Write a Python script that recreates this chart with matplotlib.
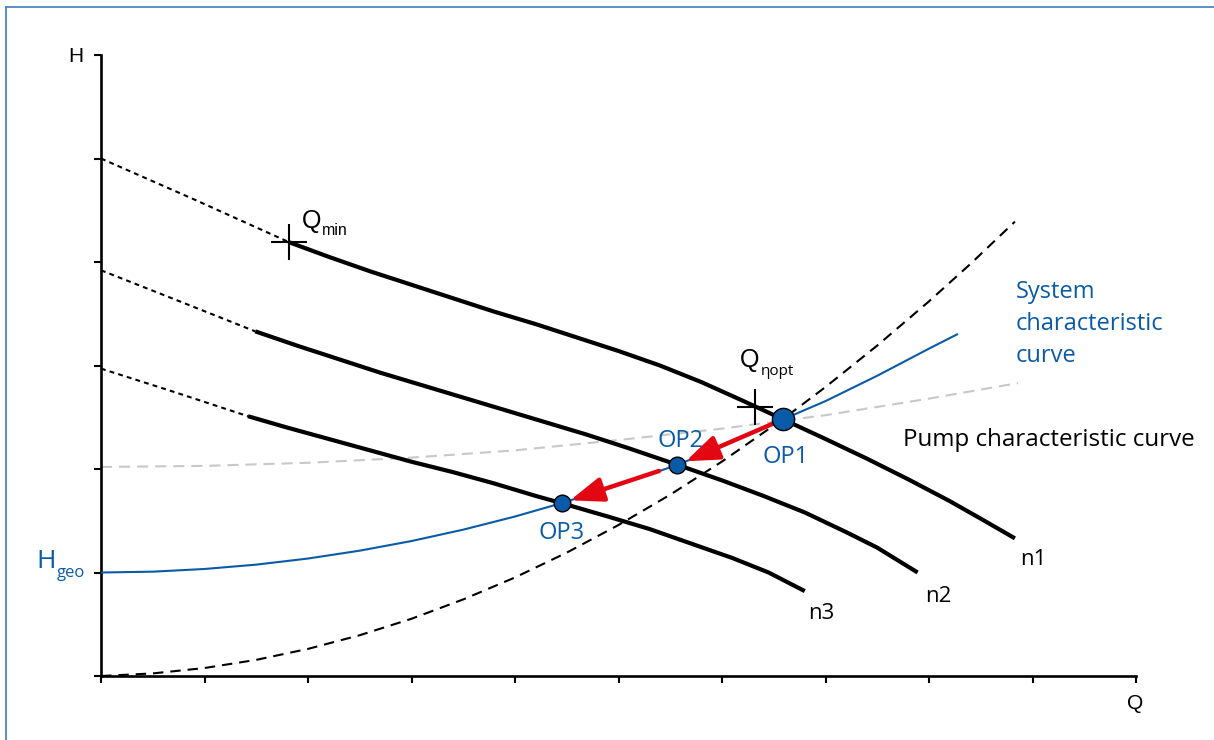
import matplotlib
matplotlib.use("Agg")
import matplotlib.pyplot as plt
from matplotlib.patches import FancyArrowPatch
from matplotlib.lines import Line2D

plt.rcParams["lines.scale_dashes"] = False

# Pump characteristic curves (flow Q, head H) for the three speeds.
# Points left of each q_start lie in the part of the curve not to be used.
n1_q = [0.00, 0.91, 1.82, 2.20, 2.60, 3.00, 3.40, 3.80, 4.20, 4.60, 5.00, 5.40,
        5.80, 6.20, 6.59, 7.00, 7.40, 7.80, 8.20, 8.50, 8.83]
n1_h = [5.00, 4.60, 4.19, 4.05, 3.91, 3.78, 3.65, 3.52, 3.40, 3.27, 3.14, 3.00,
        2.84, 2.66, 2.48, 2.29, 2.10, 1.90, 1.69, 1.52, 1.33]
n2_q = [0.00, 0.76, 1.49, 1.90, 2.30, 2.70, 3.10, 3.50, 3.90, 4.30, 4.70, 5.10,
        5.57, 6.00, 6.40, 6.80, 7.20, 7.50, 7.89]
n2_h = [3.92, 3.62, 3.33, 3.19, 3.06, 2.93, 2.81, 2.69, 2.57, 2.45, 2.33, 2.20,
        2.04, 1.89, 1.74, 1.58, 1.39, 1.24, 1.00]
n3_q = [0.00, 0.72, 1.42, 1.80, 2.20, 2.60, 3.00, 3.40, 3.80, 4.20, 4.45, 4.90,
        5.30, 5.70, 6.10, 6.45, 6.80]
n3_h = [2.97, 2.74, 2.51, 2.40, 2.29, 2.18, 2.07, 1.97, 1.86, 1.74, 1.67, 1.54,
        1.42, 1.28, 1.14, 1.00, 0.82]
q_start = [1.82, 1.49, 1.42]
speed_labels = ["n1", "n2", "n3"]

# System characteristic curve starting at the static head H_geo
sys_q = [0.00, 0.50, 1.00, 1.50, 2.00, 2.50, 3.00, 3.50, 4.00, 4.45, 5.00, 5.57,
         6.00, 6.59, 7.00, 7.50, 8.00, 8.27]
sys_h = [1.000, 1.008, 1.034, 1.076, 1.135, 1.211, 1.304, 1.414, 1.541, 1.670,
         1.845, 2.040, 2.217, 2.480, 2.656, 2.901, 3.163, 3.300]

# Control curve through the origin (dashed black)
ctrl_q = [0.00, 0.50, 1.00, 1.50, 2.00, 2.50, 3.00, 3.50, 4.00, 4.50, 5.00, 5.50,
          6.00, 6.59, 7.00, 7.50, 8.00, 8.40, 8.83]
ctrl_h = [0.000, 0.025, 0.077, 0.156, 0.262, 0.394, 0.553, 0.740, 0.952, 1.192,
          1.459, 1.752, 2.072, 2.483, 2.792, 3.193, 3.620, 3.981, 4.390]

# Flat comparison curve (dashed grey)
grey_q = [0.00, 1.00, 2.00, 3.00, 4.00, 5.00, 6.00, 7.00, 8.00, 8.86]
grey_h = [2.02, 2.03, 2.06, 2.11, 2.18, 2.28, 2.39, 2.52, 2.68, 2.83]

# Operating points OP1..OP3
op_q = [6.59, 5.57, 4.45]
op_h = [2.48, 2.04, 1.67]
op_labels = ["OP1", "OP2", "OP3"]

# Marked flows on the n1 curve
qmin_pt = (1.82, 4.19)
qopt_pt = (6.32, 2.60)

h_geo = 1.00

BLUE = "#0a5ba7"
RED = "#e30613"
GREY = "#c8c8c8"
FRAME = "#4f86c6"
SANS = "Open Sans"
ARIAL = "Liberation Sans"

W, H = 1214, 740
fig = plt.figure(figsize=(W / 100, H / 100), dpi=100)
ax = fig.add_axes([101 / W, 64 / H, 1035 / W, 621 / H])
ax.set_xlim(0, 10)
ax.set_ylim(0, 6)

# page frame (top and left rule)
fig.add_artist(Line2D([6 / W, 1], [1 - 7 / H] * 2, transform=fig.transFigure,
                      color=FRAME, lw=1.3))
fig.add_artist(Line2D([6 / W] * 2, [0, 1 - 7 / H], transform=fig.transFigure,
                      color=FRAME, lw=1.3))

# axes styling
for side in ("top", "right"):
    ax.spines[side].set_visible(False)
for side in ("left", "bottom"):
    ax.spines[side].set_linewidth(1.9)
ax.set_xticks(range(11))
ax.set_yticks(range(7))
ax.set_xticklabels([])
ax.set_yticklabels([])
ax.tick_params(direction="out", length=5, width=1.5, color="black")

# curves in the background
ax.plot(grey_q, grey_h, color=GREY, lw=1.5, dashes=(8, 5), zorder=2)
ax.plot(ctrl_q, ctrl_h, color="black", lw=1.5, dashes=(7.5, 5), zorder=3)
ax.plot(sys_q, sys_h, color=BLUE, lw=1.5, zorder=4)

# pump curves: dotted start, thick solid remainder
label_offsets = [(13, -19), (15, -21), (11.5, -20)]
for qs, hs, q0, lab, off in zip((n1_q, n2_q, n3_q), (n1_h, n2_h, n3_h),
                                q_start, speed_labels, label_offsets):
    i = qs.index(q0)
    ax.plot(qs[:i + 1], hs[:i + 1], color="black", lw=1.5, dashes=(3.5, 3),
            zorder=5)
    ax.plot(qs[i:], hs[i:], color="black", lw=3.0, solid_capstyle="butt",
            solid_joinstyle="round", zorder=5)
    ax.annotate(lab, xy=(qs[-1], hs[-1]), xytext=off, textcoords="offset points",
                ha="center", va="baseline", fontsize=16, family=SANS)

# crosses at Q_min and Q_eta,opt
for pt in (qmin_pt, qopt_pt):
    ax.plot(*pt, marker="+", markersize=26, mew=1.5, color="black", zorder=6)

ax.annotate("Q", xy=qmin_pt, xytext=(9, 10), textcoords="offset points",
            ha="left", va="baseline", fontsize=18, family=ARIAL)
ax.annotate("min", xy=qmin_pt, xytext=(23.5, 5), textcoords="offset points",
            ha="left", va="baseline", fontsize=11.5, family=ARIAL)
ax.annotate("Q", xy=qopt_pt, xytext=(-11, 28.5), textcoords="offset points",
            ha="left", va="baseline", fontsize=18, family=ARIAL)
ax.annotate("ηopt", xy=qopt_pt, xytext=(4, 23), textcoords="offset points",
            ha="left", va="baseline", fontsize=11, family=SANS)

# speed reduction arrows between operating points
shrinks = [(8, 6.5), (14, 6.5)]
for k, (sa, sb) in enumerate(shrinks):
    arr = FancyArrowPatch((op_q[k], op_h[k]), (op_q[k + 1], op_h[k + 1]),
                          arrowstyle="-|>,head_length=20,head_width=7.5",
                          mutation_scale=1, lw=3.2, color=RED,
                          shrinkA=sa, shrinkB=sb, zorder=7)
    ax.add_patch(arr)

# operating points
sizes = [16, 12, 12]
for q, h, s in zip(op_q, op_h, sizes):
    ax.plot(q, h, "o", markersize=s, markerfacecolor=BLUE,
            markeredgecolor="black", mew=1.0, zorder=8)

op_offsets = [(1.5, -31.5), (2, 13), (0, -26)]
for q, h, lab, off in zip(op_q, op_h, op_labels, op_offsets):
    ax.annotate(lab, xy=(q, h), xytext=off, textcoords="offset points",
                ha="center", va="baseline", fontsize=17, color=BLUE, family=SANS)

# axis letters
ax.annotate("H", xy=(0, 6), xytext=(-18, -5), textcoords="offset points",
            ha="center", va="baseline", fontsize=15, family=ARIAL)
ax.annotate("Q", xy=(10, 0), xytext=(-0.7, -24), textcoords="offset points",
            ha="center", va="baseline", fontsize=15, family=ARIAL)

# static head label
ax.annotate("H", xy=(0, h_geo), xytext=(-32.5, 3), textcoords="offset points",
            ha="right", va="baseline", fontsize=19, color=BLUE, family=SANS)
ax.annotate("geo", xy=(0, h_geo), xytext=(-32, -3.5), textcoords="offset points",
            ha="left", va="baseline", fontsize=12, color=BLUE, family=SANS)

# curve descriptions
ax.text(8.84, 3.03, "System\ncharacteristic\ncurve", ha="left", va="baseline",
        fontsize=17, color=BLUE, family=SANS, linespacing=1.45)
ax.text(7.75, 2.22, "Pump characteristic curve", ha="left", va="baseline",
        fontsize=17.4, color="black", family=SANS)

fig.savefig("out.png", dpi=100)
